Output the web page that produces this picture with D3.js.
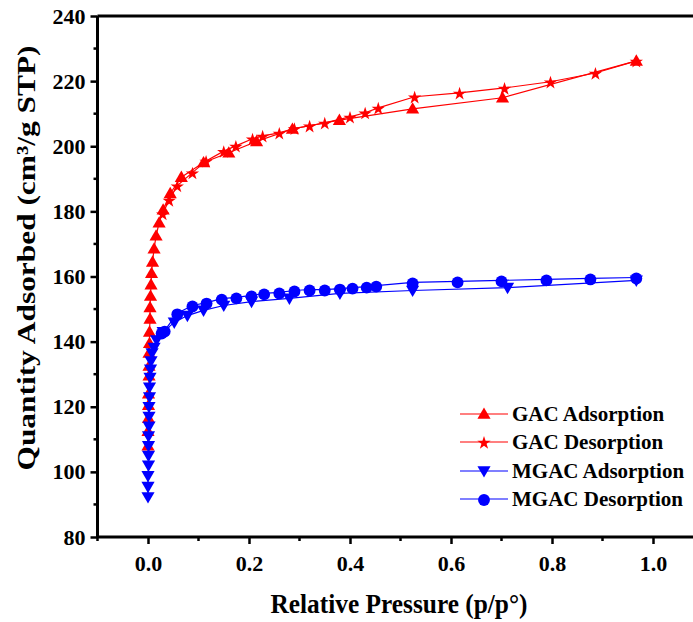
<!DOCTYPE html>
<html><head><meta charset="utf-8">
<script src="https://cdn.jsdelivr.net/npm/d3@7"></script>
<style>body{margin:0;background:#fff}svg{display:block}text{font-family:"Liberation Serif","Times New Roman",serif;font-weight:bold}</style>
</head><body><svg id="c" width="693" height="622"></svg>
<script>
// ---- data ----
const gacAdsP = [0.000,0.000,0.001,0.001,0.001,0.002,0.002,0.002,0.003,0.003,0.004,0.004,0.005,0.006,0.007,0.009,0.012,0.016,0.022,0.030,0.044,0.066,0.110,0.160,0.215,0.286,0.379,0.524,0.702,0.967];
const gacAdsV = [108,112.5,116.5,120.5,124,129.5,132.5,136.5,139.5,143,147,150.5,154,157.5,161,164.5,168.5,172.5,176.5,180.5,185.5,190.5,195,198,201.5,205.3,208,211.5,214.9,226.2];
const gacDesP = [0.967,0.886,0.797,0.706,0.617,0.528,0.456,0.430,0.400,0.350,0.320,0.290,0.260,0.227,0.207,0.174,0.150,0.115,0.088,0.058,0.042,0.029];
const gacDesV = [226.2,222.5,219.8,217.9,216.4,215.2,211.8,210.3,209.0,207.2,206.3,205.5,204.1,203.2,202.3,200.1,198.5,195.5,191.9,187.9,183.5,179.3];
const mgacAdsP = [0.000,0.000,0.000,0.001,0.001,0.001,0.001,0.002,0.002,0.002,0.003,0.003,0.004,0.005,0.006,0.008,0.012,0.017,0.030,0.052,0.078,0.110,0.150,0.205,0.280,0.380,0.524,0.712,0.967];
const mgacAdsV = [92.3,95.5,98.8,102,105,108,111,114,117,120,123,126,129,131.5,134,136.5,138.2,140.5,143,145.9,148,149.6,151.1,152.3,153.3,154.8,155.7,156.6,158.8];
const mgacDesP = [0.967,0.876,0.789,0.700,0.613,0.524,0.452,0.433,0.405,0.380,0.350,0.320,0.290,0.260,0.230,0.205,0.175,0.146,0.116,0.088,0.058,0.033,0.027];
const mgacDesV = [159.7,159.4,159.1,158.8,158.5,158.2,157.2,156.9,156.6,156.3,156.0,156.0,155.7,155.1,154.8,154.2,153.6,153.2,152.0,151.1,148.7,143.4,142.8];
const xTicks = [0.0,0.2,0.4,0.6,0.8,1.0];
const yTicks = [80,100,120,140,160,180,200,220,240];
const seriesNames = ["GAC Adsorption","GAC Desorption","MGAC Adsorption","MGAC Desorption"];
const seriesColors = ["#ff0000","#ff0000","#0000ff","#0000ff"];
const xTitle = "Relative Pressure (p/p°)";
const yTitle = "Quantity Adsorbed (cm³/g STP)";

// ---- chart ----
const svg = d3.select("#c");
const L=97.5, T=16, B=537, R=703.5;
const x = d3.scaleLinear().domain([-0.1,1.1]).range([L,R]);
const y = d3.scaleLinear().domain([80,240]).range([B,T]);

const series = [
  {p:gacAdsP, v:gacAdsV, sym:d3.symbolTriangle, size:75, rot:0},
  {p:gacDesP, v:gacDesV, sym:d3.symbolStar, size:55, rot:0},
  {p:mgacAdsP, v:mgacAdsV, sym:d3.symbolTriangle, size:75, rot:180},
  {p:mgacDesP, v:mgacDesV, sym:d3.symbolCircle, size:110, rot:0}
];
const line = d3.line().x(d=>x(d[0])).y(d=>y(d[1]));
series.forEach((s,i)=>{
  const pts = s.p.map((p,j)=>[p,s.v[j]]);
  svg.append("path").attr("d",line(pts)).attr("fill","none").attr("stroke",seriesColors[i]).attr("stroke-width",1.2);
  const shape = d3.symbol().type(s.sym).size(s.size);
  svg.append("g").selectAll("path").data(pts).join("path")
    .attr("d",shape)
    .attr("transform",d=>`translate(${x(d[0])},${y(d[1]) + (s.rot? -1:1)})rotate(${s.rot})`)
    .attr("fill",seriesColors[i]);
});

// axes
const xAxis = d3.axisBottom(x).tickValues(xTicks).tickFormat(d3.format(".1f")).tickSize(7).tickPadding(11);
const gx = svg.append("g").attr("transform",`translate(0,${B})`).call(xAxis);
const xMinor = [-0.1,0.1,0.3,0.5,0.7,0.9];
gx.selectAll(".minor").data(xMinor).join("line").attr("class","minor")
  .attr("x1",d=>x(d)).attr("x2",d=>x(d)).attr("y1",0).attr("y2",4).attr("stroke","#000").attr("stroke-width",2.5);
const yAxis = d3.axisLeft(y).tickValues(yTicks).tickSize(7).tickPadding(5);
const gy = svg.append("g").attr("transform",`translate(${L},0)`).call(yAxis);
gy.selectAll(".minor").data(d3.range(90,240,20)).join("line").attr("class","minor")
  .attr("x1",0).attr("x2",-4).attr("y1",d=>y(d)).attr("y2",d=>y(d)).attr("stroke","#000").attr("stroke-width",2.5);
[gx,gy].forEach(g=>{
  g.select(".domain").attr("stroke-width",3).attr("stroke","#000");
  g.selectAll(".tick line").attr("stroke-width",2.5);
  g.selectAll(".tick text").attr("font-size",22).attr("font-family","Liberation Serif").attr("font-weight","bold").attr("fill","#000");
});
gx.select(".domain").attr("d",`M${L},0H${R}`);
gy.select(".domain").attr("d",`M0,${T}V${B}`);
svg.append("line").attr("x1",L).attr("x2",R).attr("y1",T).attr("y2",T).attr("stroke","#000").attr("stroke-width",3);

svg.append("text").attr("transform","translate(399,613)scale(1,1.1)").attr("text-anchor","middle").attr("font-size",25)
  .attr("textLength",257).attr("lengthAdjust","spacingAndGlyphs").text(xTitle);
svg.append("text").attr("transform","translate(35,258)rotate(-90)").attr("text-anchor","middle").attr("font-size",26)
  .attr("textLength",425).attr("lengthAdjust","spacingAndGlyphs").text(yTitle);

// legend
const lg = svg.append("g");
const legY = [414,442,471,499];
series.forEach((s,i)=>{
  const yy = legY[i];
  lg.append("line").attr("x1",460).attr("x2",508).attr("y1",yy).attr("y2",yy).attr("stroke",seriesColors[i]).attr("stroke-width",1.2);
  lg.append("path").attr("d",d3.symbol().type(s.sym).size(s.size)).attr("transform",`translate(484,${yy + (s.rot?-1:1)})rotate(${s.rot})`).attr("fill",seriesColors[i]);
  lg.append("text").attr("x",512).attr("y",yy+7).attr("font-size",21).text(seriesNames[i]);
});
</script></body></html>
